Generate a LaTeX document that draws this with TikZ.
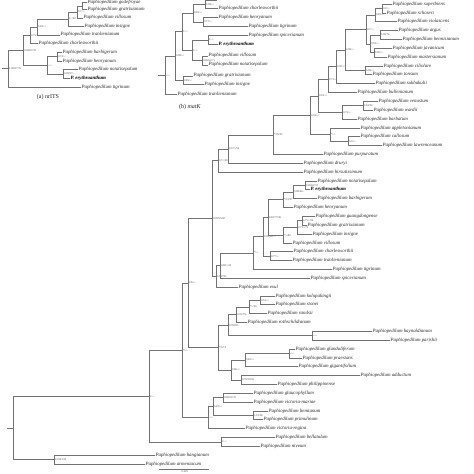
\documentclass[tikz,border=0pt]{standalone}
\usepackage{fontspec}
\setmainfont{Liberation Serif}
\tikzset{
  br/.style={draw=black!55, line width=0.6pt},
  lf/.style={anchor=west, inner sep=0.4pt, font=\fontsize{4.9}{5}\selectfont\itshape, text=black!85},
  lfb/.style={lf, font=\fontsize{4.9}{5}\selectfont\bfseries\itshape, text=black},
  sv/.style={anchor=west, inner sep=0pt, xshift=0.8pt, font=\fontsize{2.8}{3}\selectfont, text=black!70},
  ttl/.style={inner sep=0pt, font=\fontsize{6}{7}\selectfont, text=black!85},
}
\newcommand\Lf[4]{\node[lf] (#1) at (#2,#3) {Paphiopedilum #4};}
\newcommand\InN[4]{\coordinate (#1) at (#2,#3); \node[sv] at (#1) {#4};}
\newcommand\TBr[2]{\draw[br] (#1) |- (#2);}
\begin{document}
\begin{tikzpicture}[x=1pt,y=-1pt]
\useasboundingbox (0,0) rectangle (474,474);
\fill[white] (0,0) rectangle (474,474);

% ---------------- panel (a) nrITS ----------------
\Lf{a1}{87}{2.4}{godefroyae}
\Lf{a2}{87}{9.6}{gratrixianum}
\Lf{a3}{83}{17.8}{villosum}
\Lf{a4}{84}{26.2}{insigne}
\Lf{a5}{60}{34.8}{tranlienianum}
\Lf{a6}{38}{43.5}{charlesworthii}
\Lf{a7}{62}{52.2}{barbigerum}
\Lf{a8}{62}{60.9}{henryanum}
\Lf{a9}{78}{69.6}{notatisepalum}
\node[lfb] (a10) at (70,78.3) {P. erythroanthum};
\Lf{a11}{81}{87}{tigrinum}
\InN{an1}{82}{6.0}{}
\InN{an2}{77}{11.9}{0.7/-/-}
\InN{an3}{68}{19.05}{1/-/60}
\InN{an4}{37}{26.93}{0.83/-/-}
\InN{an5}{30}{35.21}{0.75/-/-}
\InN{an6}{57}{56.55}{0.74/-/-}
\InN{an7}{63}{73.95}{0.99/97/-}
\InN{an8}{47}{65.25}{-/-/-}
\InN{an9}{23}{50.23}{0.98/87/92}
\InN{aR}{8}{68.61}{0.98/87/76}
\coordinate (aR0) at (2,68.61);
\draw[br] (aR0) -- (aR);
\TBr{aR}{an9} \TBr{aR}{a11}
\TBr{an9}{an5} \TBr{an9}{an8}
\TBr{an5}{an4} \TBr{an5}{a6}
\TBr{an4}{an3} \TBr{an4}{a5}
\TBr{an3}{an2} \TBr{an3}{a4}
\TBr{an2}{an1} \TBr{an2}{a3}
\TBr{an1}{a1} \TBr{an1}{a2}
\TBr{an8}{an6} \TBr{an8}{an7}
\TBr{an6}{a7} \TBr{an6}{a8}
\TBr{an7}{a9} \TBr{an7}{a10}
\node[ttl] (ta) at (48,97) {(a) nrITS};

% ---------------- panel (b) matK ----------------
\coordinate (bt) at (217,0.5);
\Lf{b1}{218}{8}{charlesworthii}
\Lf{b2}{218}{17.2}{henryanum}
\Lf{b3}{248}{26.6}{tigrinum}
\Lf{b4}{248}{35.6}{spicerianum}
\node[lfb] (b5) at (218,44.4) {P. erythroanthum};
\Lf{b6}{208}{55.8}{villosum}
\Lf{b7}{208}{64.8}{notatisepalum}
\Lf{b8}{193}{75.8}{gratrixianum}
\Lf{b9}{204}{84.4}{insigne}
\Lf{b10}{177}{94.5}{tranlienianum}
\InN{bC1}{205}{4.25}{0.98/-/-}
\InN{bC2}{203}{21.9}{0.77/-/-}
\InN{bC}{193}{13.08}{0.83/-/-}
\InN{bE}{208}{40}{1/-/-}
\InN{bF}{202}{60.3}{0.86/62/71}
\InN{bD}{192}{50.15}{1/-/-}
\InN{bB}{182}{31.62}{1/-/-}
\InN{bgi}{183}{80.1}{0.85/-/-}
\InN{bA}{175}{55.86}{0.98/-/-}
\InN{bR}{165}{75.18}{-/-/-}
\coordinate (bR0) at (158,75.18);
\draw[br] (bR0) -- (bR);
\TBr{bR}{bA} \TBr{bR}{b10}
\TBr{bA}{bB} \TBr{bA}{bgi}
\TBr{bgi}{b8} \TBr{bgi}{b9}
\TBr{bB}{bC} \TBr{bB}{bD}
\TBr{bC}{bC1} \TBr{bC}{bC2}
\TBr{bC1}{bt} \TBr{bC1}{b1}
\TBr{bC2}{b2} \TBr{bC2}{b3}
\TBr{bD}{bE} \TBr{bD}{bF}
\TBr{bE}{b4} \TBr{bE}{b5}
\TBr{bF}{b6} \TBr{bF}{b7}
\node[ttl] (tb) at (190,107) {(b) \textit{matK}};

% ---------------- panel (c) ----------------
\Lf{c1}{392}{4.0}{superbiens}
\Lf{c2}{386}{12.85}{schoseri}
\Lf{c3}{397}{21.69}{violascens}
\Lf{c4}{398}{30.54}{argus}
\Lf{c5}{402}{39.38}{hennisianum}
\Lf{c6}{392}{48.23}{javanicum}
\Lf{c7}{387}{57.08}{mastersianum}
\Lf{c8}{383}{65.92}{ciliolare}
\Lf{c9}{372}{74.77}{tonsum}
\Lf{c10}{375}{83.62}{sukhakulii}
\Lf{c11}{357}{92.46}{bullenianum}
\Lf{c12}{378}{101.31}{venustum}
\Lf{c13}{373}{110.15}{wardii}
\Lf{c14}{357}{119.0}{barbatum}
\Lf{c15}{360}{127.85}{appletonianum}
\Lf{c16}{360}{136.69}{callosum}
\Lf{c17}{382}{145.54}{lawrenceanum}
\Lf{c18}{323}{154.38}{purpuratum}
\Lf{c19}{303}{163.23}{druryi}
\Lf{c20}{303}{172.08}{hirsutissimum}
\Lf{c21}{317}{180.92}{notatisepalum}
\node[lfb] (c22) at (310,189.77) {P. erythroanthum};
\Lf{c23}{317}{198.62}{barbigerum}
\Lf{c24}{293}{207.46}{henryanum}
\Lf{c25}{315}{216.31}{guangdongense}
\Lf{c26}{307}{225.15}{gratrixianum}
\Lf{c27}{312}{234.0}{insigne}
\Lf{c28}{292}{242.85}{villosum}
\Lf{c29}{293}{251.69}{charlesworthii}
\Lf{c30}{292}{260.54}{tranlienianum}
\Lf{c31}{332}{269.38}{tigrinum}
\Lf{c32}{310}{278.23}{spicerianum}
\Lf{c33}{238}{287.08}{exul}
\Lf{c34}{275}{295.92}{kolopakingii}
\Lf{c35}{275}{304.77}{stonei}
\Lf{c36}{267}{313.62}{randsii}
\Lf{c37}{247}{322.46}{rothschildianum}
\Lf{c38}{372}{331.31}{haynaldianum}
\Lf{c39}{390}{340.15}{parishii}
\Lf{c40}{295}{349.0}{glanduliferum}
\Lf{c41}{302}{357.85}{praestans}
\Lf{c42}{298}{366.69}{gigantifolium}
\Lf{c43}{360}{375.54}{adductum}
\Lf{c44}{277}{384.38}{philippinense}
\Lf{c45}{253}{393.23}{glaucophyllum}
\Lf{c46}{253}{402.08}{victoria-mariae}
\Lf{c47}{268}{410.92}{liemianum}
\Lf{c48}{263}{419.77}{primulinum}
\Lf{c49}{245}{428.62}{victoria-regina}
\Lf{c50}{275}{437.46}{bellatulum}
\Lf{c51}{260}{446.31}{niveum}
\Lf{c52}{155}{455.15}{hangianum}
\Lf{c53}{145}{464.0}{armeniacum}

\InN{V1}{382}{8.42}{0.9/-/-}
\InN{V2}{375}{15.06}{0.85/-/-}
\InN{A1}{380}{34.96}{1/98/74}
\InN{J1}{374}{52.65}{0.96/-/-}
\InN{A2}{370}{43.81}{0.93/-/-}
\InN{V3}{366}{29.43}{0.7/-/-}
\InN{CT2}{365}{70.35}{0.98/-/-}
\InN{V4}{345}{49.89}{0.98/-/-}
\InN{V5}{336}{66.75}{0.90/-/-}
\InN{V6}{328}{79.61}{0.73/-/-}
\InN{VW}{363}{105.73}{1/84/94}
\InN{VW2}{342}{112.37}{0.73/-/-}
\InN{V7}{318}{95.99}{0.93/-/-}
\InN{CL}{348}{141.12}{0.9/-/-}
\InN{V10}{330}{134.48}{*/-/-}
\InN{V9}{310}{115.24}{0.93/-/-}
\InN{B0}{273}{134.81}{*/93/93}
\InN{M1}{228}{149.02}{0.57/-/56}
\InN{M}{218}{160.55}{0.7/-/58}
\InN{PA1}{305}{185.35}{0.96/62/72}
\InN{PA2}{293}{191.98}{0.98/42/-}
\InN{PA3}{283}{199.72}{*/91/97}
\InN{G1}{302}{220.73}{0.75/-/96}
\InN{G2}{297}{227.37}{0.73/-/76}
\InN{G3}{283}{235.11}{*/-/80}
\InN{PC}{268}{217.42}{0.82/77/96}
\InN{CT}{270}{256.12}{0.77/-/-}
\InN{PD}{263}{236.77}{0.95/48/77}
\InN{L}{253}{253.08}{*/-/-}
\InN{L2}{220}{265.65}{0.89/-/43}
\InN{N}{216}{276.37}{0.98/78/-}
\InN{Q}{212}{218.46}{0.99/95/82}
\InN{K2}{260}{300.35}{0.51/-/-}
\InN{K3}{249}{306.98}{*/-/96}
\InN{K4}{236}{314.72}{0.76/73/-}
\InN{HP}{312}{335.73}{-/-/-}
\InN{K5}{228}{325.23}{0.78/89/-}
\InN{P1}{289}{353.42}{-/-/-}
\InN{P2}{245}{360.06}{0.82/-/-}
\InN{P3}{241}{379.96}{0.76/90/93}
\InN{P4}{231}{370.01}{0.86/-/-}
\InN{CP}{218}{347.62}{*/67/3}
\InN{S}{188}{283.04}{0.8/-/-}
\InN{C1}{223}{397.65}{0.89/92/76}
\InN{C2}{253}{415.35}{1/91/98}
\InN{C3}{213}{406.5}{0.81/-/-}
\InN{C4}{208}{417.56}{-/-/-}
\InN{R}{182}{350.3}{*/-/-}
\InN{Br}{221}{441.88}{1/-/-}
\InN{X1}{149}{396.09}{1/-/-}
\InN{PA}{54}{459.58}{1/100/100}
\InN{cR}{13}{427.83}{}
\coordinate (cR0) at (7,427.83);
\draw[br] (cR0) -- (cR);

\TBr{V1}{c1} \TBr{V1}{c2}
\TBr{V2}{V1} \TBr{V2}{c3}
\TBr{A1}{c4} \TBr{A1}{c5}
\TBr{J1}{c6} \TBr{J1}{c7}
\TBr{A2}{A1} \TBr{A2}{J1}
\TBr{V3}{V2} \TBr{V3}{A2}
\TBr{CT2}{c8} \TBr{CT2}{c9}
\TBr{V4}{V3} \TBr{V4}{CT2}
\TBr{V5}{V4} \TBr{V5}{c10}
\TBr{V6}{V5} \TBr{V6}{c11}
\TBr{VW}{c12} \TBr{VW}{c13}
\TBr{VW2}{VW} \TBr{VW2}{c14}
\TBr{V7}{V6} \TBr{V7}{VW2}
\TBr{CL}{c16} \TBr{CL}{c17}
\TBr{V10}{c15} \TBr{V10}{CL}
\TBr{V9}{V7} \TBr{V9}{V10}
\TBr{B0}{V9} \TBr{B0}{c18}
\TBr{M1}{B0} \TBr{M1}{c19}
\TBr{M}{M1} \TBr{M}{c20}
\TBr{PA1}{c21} \TBr{PA1}{c22}
\TBr{PA2}{PA1} \TBr{PA2}{c23}
\TBr{PA3}{PA2} \TBr{PA3}{c24}
\TBr{G1}{c25} \TBr{G1}{c26}
\TBr{G2}{G1} \TBr{G2}{c27}
\TBr{G3}{G2} \TBr{G3}{c28}
\TBr{PC}{PA3} \TBr{PC}{G3}
\TBr{CT}{c29} \TBr{CT}{c30}
\TBr{PD}{PC} \TBr{PD}{CT}
\TBr{L}{PD} \TBr{L}{c31}
\TBr{L2}{L} \TBr{L2}{c32}
\TBr{N}{L2} \TBr{N}{c33}
\TBr{Q}{M} \TBr{Q}{N}
\TBr{K2}{c34} \TBr{K2}{c35}
\TBr{K3}{K2} \TBr{K3}{c36}
\TBr{K4}{K3} \TBr{K4}{c37}
\TBr{HP}{c38} \TBr{HP}{c39}
\TBr{K5}{K4} \TBr{K5}{HP}
\TBr{P1}{c40} \TBr{P1}{c41}
\TBr{P2}{P1} \TBr{P2}{c42}
\TBr{P3}{c43} \TBr{P3}{c44}
\TBr{P4}{P2} \TBr{P4}{P3}
\TBr{CP}{K5} \TBr{CP}{P4}
\TBr{S}{Q} \TBr{S}{CP}
\TBr{C1}{c45} \TBr{C1}{c46}
\TBr{C2}{c47} \TBr{C2}{c48}
\TBr{C3}{C1} \TBr{C3}{C2}
\TBr{C4}{C3} \TBr{C4}{c49}
\TBr{R}{S} \TBr{R}{C4}
\TBr{Br}{c50} \TBr{Br}{c51}
\TBr{X1}{R} \TBr{X1}{Br}
\TBr{PA}{c52} \TBr{PA}{c53}
\TBr{cR}{X1} \TBr{cR}{PA}

% scale bar
\coordinate (sb1) at (159,469);
\coordinate (sb2) at (209,469);
\draw[br] (sb1) -- (sb2);
\node[sv, anchor=north, xshift=0pt] (sbl) at (184,470.3) {0.005};
\end{tikzpicture}
\end{document}
